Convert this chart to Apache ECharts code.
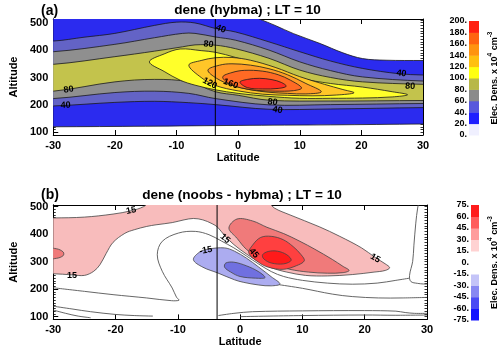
<!DOCTYPE html>
<html><head><meta charset="utf-8">
<script src="https://cdn.jsdelivr.net/npm/echarts@6/dist/echarts.min.js"></script>
<style>html,body{margin:0;padding:0;background:#fff}#c{width:500px;height:352px}</style>
</head><body><div id="c"></div>
<script>
// ---------------- data ----------------
const latTicks = [-30, -20, -10, 0, 10, 20, 30];
const altTicks = [100, 200, 300, 400, 500];
const cbLevelsA = [0, 20, 40, 60, 80, 100, 120, 140, 160, 180, 200];
const cbLevelsB = [-75, -60, -45, -30, -15, 0, 15, 30, 45, 60, 75];
const vLineLat = -3.7;

// panel (a) contour curves  [latitude, altitude]
const a20Up = [[-30,525],[2,525],[3.5,513],[6,490],[9,460],[13.3,424],[17,390],[20.2,369],[24,363],[30,362]];
const a20Lo = [[-30,120],[-15,122],[0,125],[15,127],[30,130]];
const a40Up = [[-30,433],[-25,447],[-20,461],[-13.6,490],[-10,502],[-7,499],[-3.7,479],[-0.4,466],[5,430],[10,394],[15,360],[20.2,333],[26,314],[30,309]];
const a40Lo = [[-30,196],[-20,209],[-13.6,213],[-8,208],[-3.7,201],[5,184],[15,185],[30,190]];
const a60Up = [[-30,394],[-20,421],[-13.6,445],[-9,461],[-7,461],[-3.7,448],[-0.4,436],[5,400],[10,357],[15,325],[20.2,302],[30,287]];
const a60Lo = [[-30,223],[-20,245],[-13.6,250],[-8,242],[-3.7,223],[5,200],[15,201],[30,205]];
const a80Up = [[-30,348],[-20,376],[-13.6,396],[-9,412],[-7,419],[-3.7,418],[-0.4,405],[5,370],[10,327],[15,300],[20.2,284],[30,275]];
const a80Lo = [[-30,250],[-20,284],[-13.6,293],[-8,284],[-3.7,248],[0,235],[5,217],[15,214],[30,216]];
const a100 = [[-14.4,357],[-12,386],[-9.4,404],[-6,398],[-3.7,392],[-0.4,373],[5,335],[10,298],[15,278],[20.2,265],[25,248],[27.5,237],[25,229],[20.2,225],[15,224],[10,224],[5,231],[0,242],[-3.7,255],[-7,272],[-9.4,290],[-12,322]];
const a120 = [[-8,345],[-6,362],[-3.7,372],[-1,373],[2,363],[6,337],[10,303],[14,275],[17,256],[18.8,244],[16,236],[12,233],[8,235],[4,239],[0,251],[-3.7,271],[-6,300]];
const a140 = [[-4.9,327],[-3,345],[-1,350],[2,345],[5,332],[8,310],[11,278],[13.5,248],[11,240],[8,242],[5,246],[2,255],[-1,272],[-3.5,297]];
const a160 = [[-2.5,302],[-1,318],[1,326],[4,323],[6.5,310],[8.5,290],[10.3,262],[9,252],[6,250],[3,253],[0.5,262],[-1.5,278]];
const a180 = [[0.3,283],[1.5,293],[3.5,297],[5.5,292],[7,282],[7.8,268],[6.5,260],[4,258],[1.5,263]];
const aLabels = [[-28,199,'40',3],[-27.5,256,'80',8],[-2.8,477,'40',-20],[-4.8,421,'80',-6],[-4.6,279,'120',-28],[-1.2,277,'160',-20],[5.6,210,'80',-8],[6.4,181,'40',-8],[26.5,315,'40',-8],[27.9,268,'80',-3]];

// panel (b) contour curves
const bPink = [[-36,256],[-30,256],[-27,252],[-25,250],[-23.5,265],[-22.5,289],[-21.5,330],[-20.4,370],[-18.5,403],[-17,416],[-15,428],[-13.5,434],[-10.9,442],[-9,452],[-7.5,457],[-6,452],[-4.5,438],[-3.6,425],[-2.5,395],[-1,362],[1,328],[3,300],[5,278],[7.5,262],[10.5,250],[14,248],[18,253],[21.5,262],[23.3,268],[24,278],[23.3,292],[21.7,315],[19.5,350],[16,392],[12.7,427],[8,470],[5.5,495],[4,525],[-14,525],[-15.5,500],[-17.5,485],[-20.4,473],[-25,462],[-30,459],[-36,459]];
const bRedLeft = [[-32,348],[-29.5,347],[-28.4,335],[-28.4,322],[-29.5,312],[-32,311]];
const bRed30 = [[-1.8,422],[-0.5,455],[2,448],[4.3,425],[7,402],[9.6,374],[12,345],[14.8,308],[16.5,283],[17.5,268],[16.5,260],[14,258],[11,262],[8,272],[5.5,290],[3,315],[1,345],[-0.5,385]];
const bRed45 = [[1.4,331],[2,360],[3.3,388],[5,392],[6.9,380],[8.5,355],[9.8,325],[10.3,303],[9,285],[6.9,272],[4.5,280],[3,297]];
const bRed60 = [[3.6,325],[4.5,337],[6,338],[7.5,325],[8.2,305],[7,292],[5,295],[3.8,310]];
const bBlue15 = [[-7.5,307],[-6.5,335],[-5,346],[-2.5,350],[-0.9,338],[1,313],[3,280],[5,245],[6.4,219],[5,212],[3,215],[0.5,225],[-0.9,234],[-3.6,259],[-6,280]];
const bBlue30 = [[-2.3,295],[-1,298],[1,285],[3,263],[4,242],[2.5,240],[0,246],[-1.5,262],[-2.5,280]];
const bLine1 = [[-30,205],[-25,192],[-20.4,180],[-15,168],[-11,158],[-9.8,160],[-10.2,170],[-10.9,204],[-12.5,265],[-13.3,325],[-12.5,374],[-9.9,404],[-7.2,410],[-5,398],[-3,375],[-1,350],[1,321],[3,291],[5,264],[7,246],[10,232],[14,222],[18,218],[22,222],[25,232],[27.2,240]];
const bLine2 = [[6.3,216],[10,203],[14.8,182],[18,173],[22.2,168],[26,168],[30,170]];
const bLine3 = [[28.8,525],[28.5,495],[28.2,440],[27.9,360],[27.7,301],[27.2,250],[27.4,228],[28.5,221],[30,218]];
const bBot1 = [[-30,138],[-27,128],[-24,118],[-20,108],[-17,104],[-14,102]];
const bBot2 = [[-30,124],[-28,112],[-26,102],[-24,96]];
const bBot3 = [[-3.5,104],[-1,112],[2,118],[10,121],[20,122],[25,120],[26.5,115],[28,112],[30,112]];
const bBot4 = [[0,100],[10,104],[20,106],[25,105],[30,106]];
const bLabels = [[-17.5,486,'15',12],[-27,251,'15',0],[-2.4,384,'15',-40],[-5.5,341,'-15',10],[2.2,331,'45',-50],[21.7,312,'15',-30]];

// ---------------- styles ----------------
const FF = '"Liberation Sans", Arial, Helvetica, sans-serif';
const aColors = ['#2b2bef','#6363c6','#8f8f8f','#c3c34c','#ffff2a','#ffc628','#ff9b26','#ff6a24','#ff2c24'];
const bColors = ['#f8bcbc','#f07a7a','#f07a7a','#ff4040','#ff1a1a','#acacf0','#7070e0'];
const cbColorsA = ['#f0f0ff','#2020ff','#5858dc','#8a8a8a','#b8b848','#ffff10','#ffc010','#ff9410','#ff6410','#ff2010'];
const cbColorsB = ['#1414ff','#4a4af4','#8888f2','#c4c4f8','#ffffff','#ffffff','#ffd2d2','#ff9c9c','#ff5c5c','#ff1c1c'];

function strip(up, lo) {
  const L = -36, R = 36;
  const u = [[L, up[0][1]]].concat(up, [[R, up[up.length-1][1]]]);
  const l = [[L, lo[0][1]]].concat(lo, [[R, lo[lo.length-1][1]]]);
  return u.concat(l.slice().reverse());
}
const aPolys = [strip(a20Up,a20Lo), strip(a40Up,a40Lo), strip(a60Up,a60Lo), strip(a80Up,a80Lo), a100, a120, a140, a160, a180];
const bPolys = [bPink, bRedLeft, bRed30, bRed45, bRed60, bBlue15, bBlue30];
const bLines = [bLine1, bLine2, bLine3, bBot1, bBot2, bBot3, bBot4];

function clipOf(cs){ return {type:'rect', shape:{x:cs.x, y:cs.y, width:cs.width, height:cs.height}}; }

function fillSeries(gi, polys, colors, stroke) {
  return {
    type:'custom', xAxisIndex: gi*2, yAxisIndex: gi*3, silent:true, clip:true, z:2,
    data: polys.map((p,i)=>[i]),
    renderItem: (params, api) => {
      const i = params.dataIndex;
      return { type:'polygon', shape:{ points: polys[i].map(p=>api.coord(p)), smooth:0.35 },
        style:{ fill: colors[i], stroke: stroke, lineWidth: 0.8 }, clipPath: clipOf(params.coordSys) };
    }
  };
}
function lineSeries(gi, lines) {
  return {
    type:'custom', xAxisIndex: gi*2, yAxisIndex: gi*3, silent:true, clip:true, z:3,
    data: lines.map((p,i)=>[i]),
    renderItem: (params, api) => ({ type:'polyline', shape:{ points: lines[params.dataIndex].map(p=>api.coord(p)), smooth:0.35 },
        style:{ fill:'none', stroke:'#555', lineWidth:0.9 }, clipPath: clipOf(params.coordSys) })
  };
}
function labelSeries(gi, labels) {
  return {
    type:'custom', xAxisIndex: gi*2, yAxisIndex: gi*3, silent:true, z:5,
    data: labels.map((p,i)=>[i]),
    renderItem: (params, api) => {
      const L = labels[params.dataIndex];
      const c = api.coord([L[0], L[1]]);
      return { type:'text', x:c[0], y:c[1], rotation: L[3]*Math.PI/180,
        style:{ text:L[2], x:0, y:0, font:'bold 9px '+FF, fill:'#000', align:'center', verticalAlign:'middle', textAlign:'center', textVerticalAlign:'middle' } };
    }
  };
}
function vLineSeries(gi, yMin, yMax) {
  return {
    type:'custom', xAxisIndex: gi*2, yAxisIndex: gi*3, silent:true, z:6,
    data:[[vLineLat]],
    renderItem: (params, api) => {
      const p1 = api.coord([api.value(0), yMin]), p2 = api.coord([api.value(0), yMax]);
      return { type:'line', shape:{x1:p1[0], y1:p1[1], x2:p2[0], y2:p2[1]}, style:{stroke:'#000', lineWidth:1} };
    }
  };
}
function cbSeries(xi, yi, levels, colors) {
  return {
    type:'custom', xAxisIndex: xi, yAxisIndex: yi, silent:true,
    data: colors.map((c,i)=>[i]),
    renderItem: (params, api) => {
      const i = params.dataIndex;
      const p1 = api.coord([0, levels[i+1]]), p2 = api.coord([1, levels[i]]);
      return { type:'rect', shape:{x:p1[0], y:p1[1], width:p2[0]-p1[0], height:p2[1]-p1[1]+0.5}, style:{fill:colors[i]} };
    }
  };
}

const lblFont = {fontFamily:FF, fontWeight:'bold', fontSize:11, color:'#000'};
function xAx(g, pos, main) {
  return { type:'value', gridIndex:g, position:pos, min:-30, max:30, interval:10,
    axisLine:{show:true, onZero:false, lineStyle:{color:'#000', width:1}},
    axisTick:{show:true, inside:true, length:5, lineStyle:{color:'#000'}},
    axisLabel:{show:main, margin:5, ...lblFont, customValues: latTicks},
    splitLine:{show:false},
    name: main ? 'Latitude' : '', nameLocation:'middle', nameGap:17, nameTextStyle:{...lblFont} };
}
function yMain(g, max) {
  return { type:'value', gridIndex:g, position:'left', min:90, max:max,
    axisLine:{show:true, onZero:false, lineStyle:{color:'#000', width:1}},
    axisTick:{show:true, inside:true, length:5, customValues: altTicks, lineStyle:{color:'#000'}},
    axisLabel:{show:true, margin:5, ...lblFont, customValues: altTicks},
    splitLine:{show:false},
    name:'Altitude', nameLocation:'middle', nameGap:30, nameTextStyle:{...lblFont} };
}
function yMinor(g, max, pos) {
  return { type:'value', gridIndex:g, position:pos, min:90, max:max, interval:10,
    axisLine:{show:true, onZero:false, lineStyle:{color:'#000', width:1}},
    axisTick:{show:true, inside:true, length:2.5, lineStyle:{color:'#000', width:0.8}},
    axisLabel:{show:false}, splitLine:{show:false} };
}
function cbX(g){ return {type:'value', gridIndex:g, min:0, max:1, show:false}; }
function cbY(g, min, max, step) {
  return { type:'value', gridIndex:g, position:'left', min:min, max:max, interval:step,
    axisLine:{show:false}, axisTick:{show:false}, splitLine:{show:false},
    axisLabel:{show:true, margin:2, fontFamily:FF, fontWeight:'bold', fontSize:9, color:'#000', formatter: v => v + '.'} };
}
function cbName(g, min, max) {
  return { type:'value', gridIndex:g, position:'right', min:min, max:max,
    axisLine:{show:false}, axisTick:{show:false}, axisLabel:{show:false}, splitLine:{show:false},
    name:'{a|Elec. Dens. x 10}{s|4}{a| cm}{s|-3}', nameLocation:'middle', nameRotate:90, nameGap:8,
    nameTextStyle:{ rich:{ a:{fontFamily:FF, fontWeight:'bold', fontSize:9, color:'#000', lineHeight:12, verticalAlign:'bottom'},
                           s:{fontFamily:FF, fontWeight:'bold', fontSize:6.5, color:'#000', lineHeight:12, verticalAlign:'top'} } } };
}

const chart = echarts.init(document.getElementById('c'), null, {renderer:'canvas'});
chart.setOption({
  animation:false, backgroundColor:'#fff',
  grid:[
    {left:43, top:19, width:380, height:116},
    {left:45, top:205, width:382, height:114.4},
    {left:469, top:21, width:10, height:114},
    {left:471, top:205, width:10, height:115}
  ],
  xAxis:[ xAx(0,'bottom',true), xAx(0,'top',false), xAx(1,'bottom',true), xAx(1,'top',false), cbX(2), cbX(3) ],
  yAxis:[ yMain(0,513.5), yMinor(0,513.5,'right'), yMinor(0,513.5,'left'),
          yMain(1,506), yMinor(1,506,'right'), yMinor(1,506,'left'),
          cbY(2,0,200,20), cbName(2,0,200), cbY(3,-75,75,15), cbName(3,-75,75) ],
  graphic:[
    {type:'text', x:41, y:11, style:{text:'(a)', font:'bold 14px '+FF, fill:'#000', verticalAlign:'middle', textVerticalAlign:'middle'}},
    {type:'text', x:247.5, y:10, style:{text:'dene (hybma) ; LT = 10', font:'bold 13.6px '+FF, fill:'#000', align:'center', textAlign:'center', verticalAlign:'middle', textVerticalAlign:'middle'}},
    {type:'text', x:41, y:195, style:{text:'(b)', font:'bold 14px '+FF, fill:'#000', verticalAlign:'middle', textVerticalAlign:'middle'}},
    {type:'text', x:242, y:195, style:{text:'dene (noobs - hybma) ; LT = 10', font:'bold 13.6px '+FF, fill:'#000', align:'center', textAlign:'center', verticalAlign:'middle', textVerticalAlign:'middle'}}
  ],
  series:[
    fillSeries(0, aPolys, aColors, '#1a1a1a'),
    labelSeries(0, aLabels),
    vLineSeries(0, 90, 513.5),
    fillSeries(1, bPolys, bColors, '#444'),
    lineSeries(1, bLines),
    labelSeries(1, bLabels),
    vLineSeries(1, 90, 506),
    cbSeries(4, 6, cbLevelsA, cbColorsA),
    cbSeries(5, 8, cbLevelsB, cbColorsB)
  ]
});
</script></body></html>
